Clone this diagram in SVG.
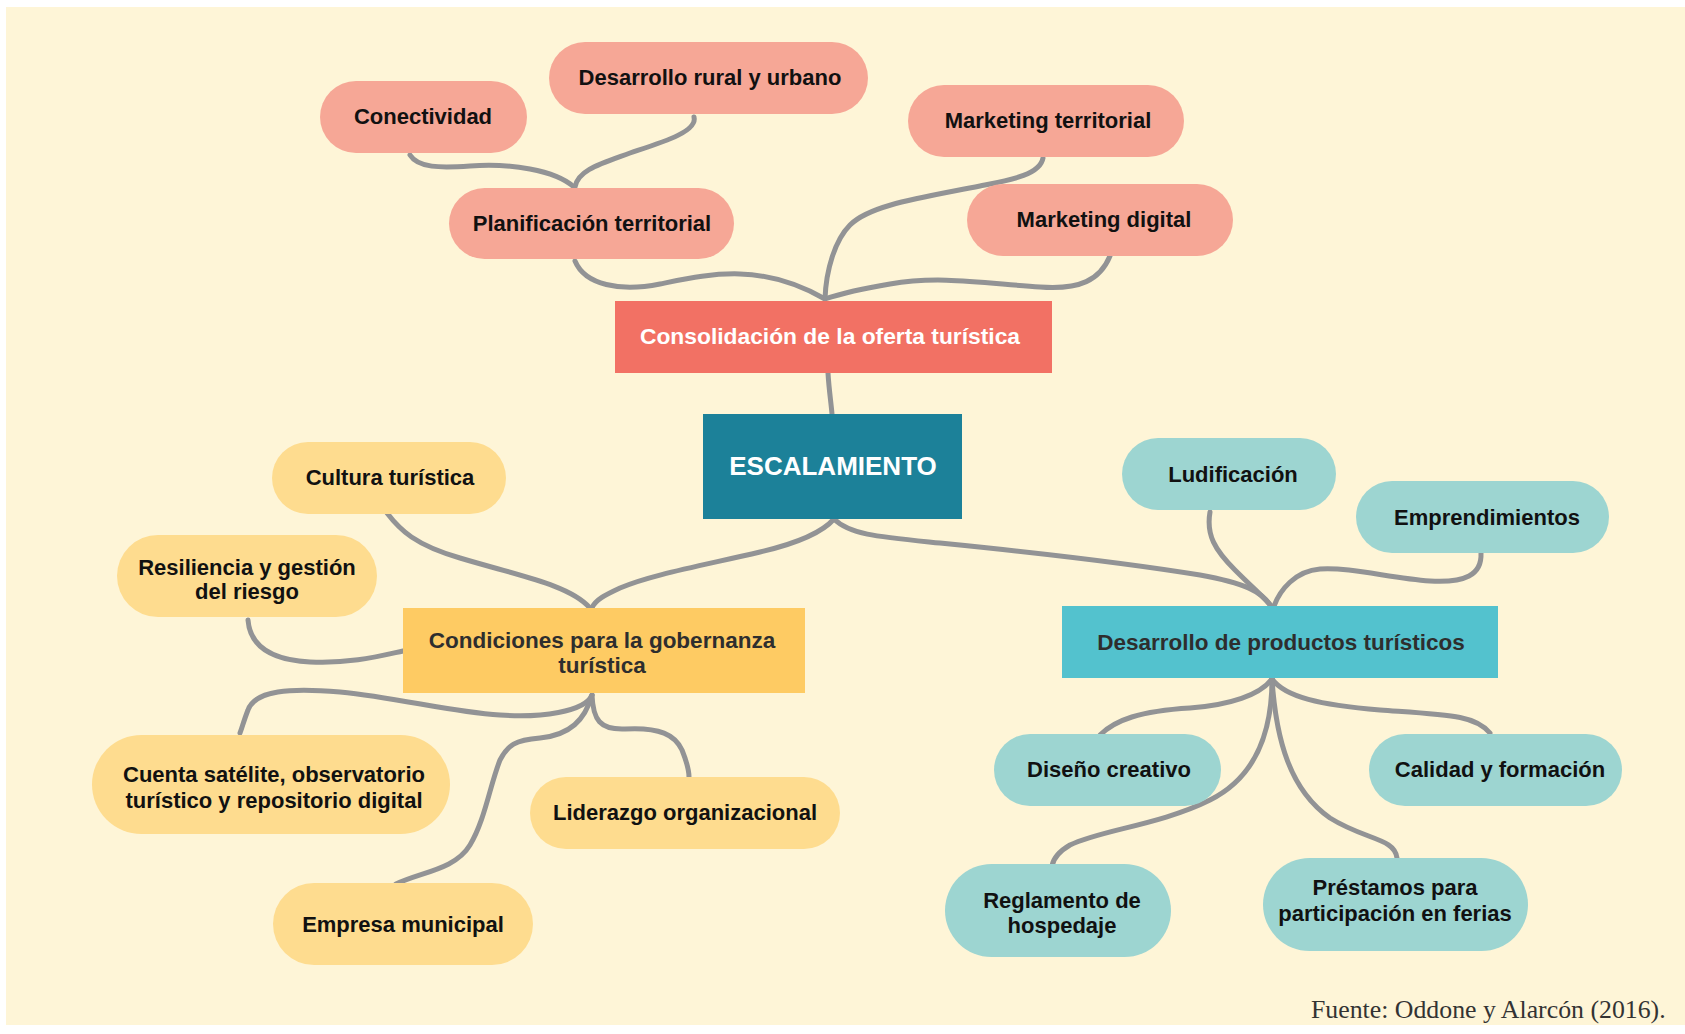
<svg xmlns="http://www.w3.org/2000/svg" width="1685" height="1034" viewBox="0 0 1685 1034">
<style>
.bg{fill:#FEF5D7}
.c{fill:none;stroke:#929395;stroke-width:5;stroke-linecap:round;stroke-linejoin:round}
.pk{fill:#F6A796}
.yl{fill:#FEDC8F}
.tl{fill:#9DD5D1}
.t{font-family:"Liberation Sans",Arial,sans-serif;font-weight:bold;font-size:22px;fill:#111;text-anchor:middle}
.tw{font-family:"Liberation Sans",Arial,sans-serif;font-weight:bold;font-size:22.8px;fill:#fff;text-anchor:middle}
.td{font-family:"Liberation Sans",Arial,sans-serif;font-weight:bold;font-size:22.5px;fill:#2e2e2e;text-anchor:middle}
.src{font-family:"Liberation Serif","Times New Roman",serif;font-size:25.8px;fill:#333}
</style>
<rect class="bg" x="6" y="7" width="1679" height="1018"/>
<g id="connectors">
<path class="c" d="M410,155 C418,168 440,168 470,166 C510,163 555,170 574,187"/>
<path class="c" d="M694,117 C698,132 660,143 630,153 C600,164 578,170 575,187"/>
<path class="c" d="M575,261 C585,285 620,292 660,284 C710,274 760,262 825,299"/>
<path class="c" d="M1043,158 C1040,175 1010,180 980,186 C920,198 870,205 850,225 C835,240 826,270 825,299"/>
<path class="c" d="M1110,256 C1100,280 1080,290 1040,287 C990,284 940,275 890,284 C860,289 840,294 825,299"/>
<path class="c" d="M828,373 C829,390 831,402 832,414"/>
<path class="c" d="M834,519 C820,535 790,545 760,552 C700,566 650,575 620,588 C605,595 595,600 592,608"/>
<path class="c" d="M387,513 C400,530 415,545 460,558 C520,576 570,585 590,608"/>
<path class="c" d="M248,620 C250,645 270,660 310,662 C350,664 380,656 403,651"/>
<path class="c" d="M592,695 C585,712 540,718 500,715 C450,712 400,698 340,692 C290,688 255,690 248,710 C244,720 242,728 240,733"/>
<path class="c" d="M592,695 C585,720 570,735 540,738 C515,740 508,745 500,760 C490,785 485,820 470,845 C455,870 420,872 396,884"/>
<path class="c" d="M592,695 C593,720 600,730 625,729 C660,727 675,735 682,750 C686,760 689,770 689,777"/>
<path class="c" d="M834,519 C850,535 880,537 940,543 C1020,551 1120,562 1200,575 C1245,583 1262,592 1271,606"/>
<path class="c" d="M1210,512 C1206,535 1215,550 1235,570 C1255,590 1265,598 1271,606"/>
<path class="c" d="M1481,553 C1482,575 1465,583 1430,581 C1390,578 1350,567 1320,569 C1295,571 1280,590 1274,606"/>
<path class="c" d="M1272,679 C1260,695 1230,705 1190,708 C1140,711 1115,720 1100,735"/>
<path class="c" d="M1272,679 C1285,697 1320,705 1380,710 C1450,715 1475,715 1490,733"/>
<path class="c" d="M1272,679 C1272,740 1250,780 1210,800 C1160,825 1100,830 1070,845 C1058,852 1053,860 1052,866"/>
<path class="c" d="M1272,679 C1276,740 1290,790 1330,818 C1365,840 1395,838 1397,858"/>
</g>
<g id="n-conectividad"><rect class="pk" x="320" y="81" width="207" height="72" rx="36"/><text class="t" x="423" y="124">Conectividad</text></g>
<g id="n-desarrollo-rural"><rect class="pk" x="549" y="42" width="319" height="72" rx="36"/><text class="t" x="710" y="85">Desarrollo rural y urbano</text></g>
<g id="n-marketing-territorial"><rect class="pk" x="908" y="85" width="276" height="72" rx="36"/><text class="t" x="1048" y="128">Marketing territorial</text></g>
<g id="n-marketing-digital"><rect class="pk" x="967" y="184" width="266" height="72" rx="36"/><text class="t" x="1104" y="227">Marketing digital</text></g>
<g id="n-planificacion"><rect class="pk" x="449" y="188" width="285" height="71" rx="35.5"/><text class="t" x="592" y="231">Planificación territorial</text></g>
<g id="n-consolidacion"><rect fill="#F27164" x="615" y="301" width="437" height="72"/><text class="tw" x="830" y="344">Consolidación de la oferta turística</text></g>
<g id="n-escalamiento"><rect fill="#1C8199" x="703" y="414" width="259" height="105"/><text class="tw" x="833" y="475" style="font-size:26px">ESCALAMIENTO</text></g>
<g id="n-cultura"><rect class="yl" x="272" y="442" width="234" height="72" rx="36"/><text class="t" x="390" y="485">Cultura turística</text></g>
<g id="n-resiliencia"><rect class="yl" x="117" y="535" width="260" height="82" rx="41"/><text class="t" x="247" y="575">Resiliencia y gestión</text><text class="t" x="247" y="599">del riesgo</text></g>
<g id="n-condiciones"><rect fill="#FECB63" x="403" y="608" width="402" height="85"/><text class="td" x="602" y="648">Condiciones para la gobernanza</text><text class="td" x="602" y="673">turística</text></g>
<g id="n-cuenta"><rect class="yl" x="92" y="735" width="358" height="99" rx="49.5"/><text class="t" x="274" y="782">Cuenta satélite, observatorio</text><text class="t" x="274" y="808">turístico y repositorio digital</text></g>
<g id="n-liderazgo"><rect class="yl" x="530" y="777" width="310" height="72" rx="36"/><text class="t" x="685" y="820">Liderazgo organizacional</text></g>
<g id="n-empresa"><rect class="yl" x="273" y="883" width="260" height="82" rx="41"/><text class="t" x="403" y="932">Empresa municipal</text></g>
<g id="n-ludificacion"><rect class="tl" x="1122" y="438" width="214" height="72" rx="36"/><text class="t" x="1233" y="482">Ludificación</text></g>
<g id="n-emprendimientos"><rect class="tl" x="1356" y="481" width="253" height="72" rx="36"/><text class="t" x="1487" y="525">Emprendimientos</text></g>
<g id="n-desarrollo-productos"><rect fill="#53C2CE" x="1062" y="606" width="436" height="72"/><text class="td" x="1281" y="650">Desarrollo de productos turísticos</text></g>
<g id="n-diseno"><rect class="tl" x="994" y="734" width="227" height="72" rx="36"/><text class="t" x="1109" y="777">Diseño creativo</text></g>
<g id="n-calidad"><rect class="tl" x="1369" y="734" width="253" height="72" rx="36"/><text class="t" x="1500" y="777">Calidad y formación</text></g>
<g id="n-reglamento"><rect class="tl" x="945" y="864" width="226" height="93" rx="46.5"/><text class="t" x="1062" y="908">Reglamento de</text><text class="t" x="1062" y="933">hospedaje</text></g>
<g id="n-prestamos"><rect class="tl" x="1263" y="858" width="265" height="93" rx="46.5"/><text class="t" x="1395" y="895">Préstamos para</text><text class="t" x="1395" y="921">participación en ferias</text></g>
<text class="src" x="1311" y="1018">Fuente: Oddone y Alarcón (2016).</text>
</svg>
